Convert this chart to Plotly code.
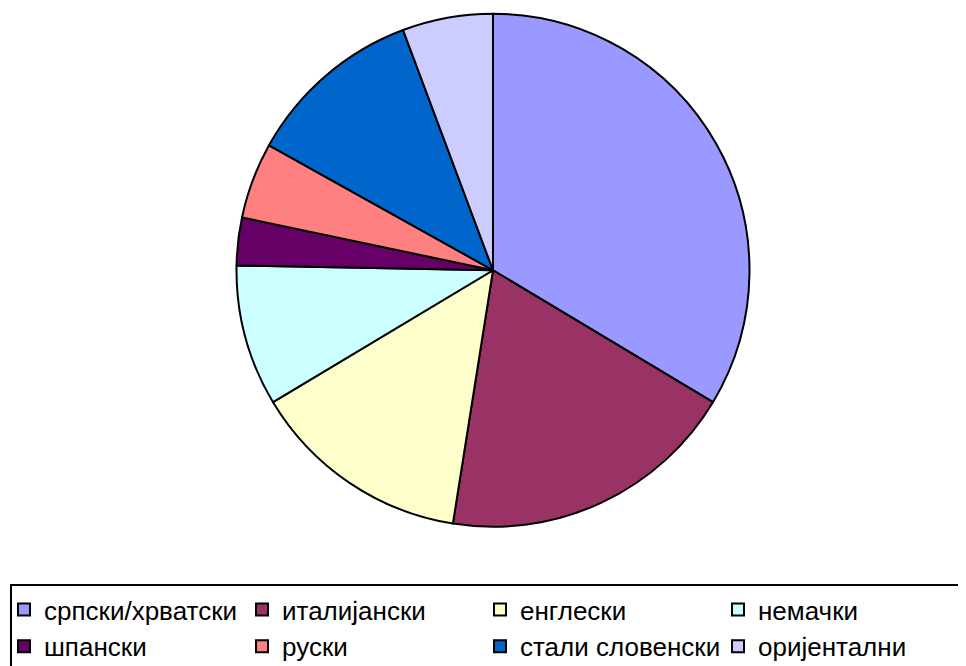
import plotly.graph_objects as go

# language shares (percent)
labels = ["српски/хрватски", "италијански", "енглески", "немачки",
          "шпански", "руски", "стали словенски", "оријентални"]
values = [33.6, 18.9, 13.9, 8.9, 3.0, 4.8, 11.2, 5.7]
colors = ["#9999FF", "#993366", "#FFFFCC", "#CCFFFF",
          "#660066", "#FF8080", "#0066CC", "#CCCCFF"]

W, H = 966, 666
OFF = 8  # default page body margin in the browser

fig = go.Figure(
    go.Pie(
        labels=labels,
        values=values,
        sort=False,
        direction="clockwise",
        rotation=0,
        textinfo="none",
        hoverinfo="label+percent",
        marker=dict(colors=colors, line=dict(color="black", width=2)),
        domain=dict(
            x=[(236.5 - OFF) / W, (749.5 - OFF) / W],
            y=[1 - (527 - OFF) / H, 1 - (13.5 - OFF) / H],
        ),
    )
)

fig.update_layout(
    width=W,
    height=H,
    margin=dict(l=0, r=0, t=0, b=0, autoexpand=False),
    paper_bgcolor="white",
    plot_bgcolor="white",
    font=dict(family="Arial, Liberation Sans, sans-serif", size=26, color="black"),
    showlegend=True,
    legend=dict(
        orientation="h",
        x=(10 - OFF) / W,
        xanchor="left",
        y=1 - (584 - OFF) / H,
        yanchor="top",
        entrywidth=201,
        entrywidthmode="pixels",
        indentation=-8,
        bordercolor="black",
        borderwidth=2,
        bgcolor="white",
        tracegroupgap=0,
        itemclick=False,
    ),
)

fig.write_html("out.html")
